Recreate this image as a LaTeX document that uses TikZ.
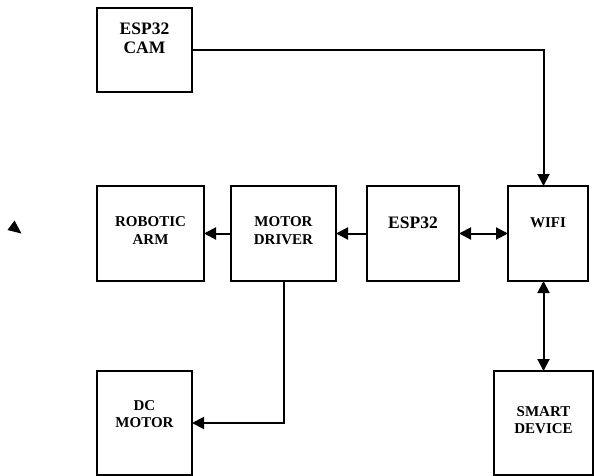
\documentclass[tikz,border=0pt]{standalone}
\usepackage{fontspec}
\setmainfont{Liberation Serif}
\usetikzlibrary{arrows.meta,calc}
\begin{document}
\begin{tikzpicture}[x=1pt,y=-1pt,
  blk/.style={draw, line width=1.7pt, rectangle, inner sep=0pt, outer sep=0pt},
  lbl/.style={align=center, font=\bfseries\fontsize{15}{17.5}\selectfont, inner sep=0pt},
  lblbig/.style={align=center, font=\bfseries\fontsize{17.5}{19.5}\selectfont, inner sep=0pt},
  conn/.style={line width=2pt},
  arr/.style={conn, -{Triangle[length=12pt,width=12pt]}},
  dbl/.style={conn, {Triangle[length=12pt,width=12pt]}-{Triangle[length=12pt,width=12pt]}}]
\useasboundingbox (0,0) rectangle (594,476);
% boxes
\node[blk, minimum width=95pt, minimum height=84pt] (cam) at (144.5,50) {};
\node[blk, minimum width=107pt, minimum height=95pt] (arm) at (150.5,233.5) {};
\node[blk, minimum width=105pt, minimum height=95pt] (md) at (283.5,233.5) {};
\node[blk, minimum width=92pt, minimum height=95pt] (esp) at (413,233.5) {};
\node[blk, minimum width=80pt, minimum height=95pt] (wifi) at (548,233.5) {};
\node[blk, minimum width=95pt, minimum height=104pt] (dc) at (144.5,423) {};
\node[blk, minimum width=99pt, minimum height=104pt] (smart) at (543.5,423) {};
% labels
\node[lblbig] (camT) at (144.5,38.5) {ESP32\\CAM};
\node[lbl] (armT) at (150.5,230.5) {ROBOTIC\\ARM};
\node[lbl] (mdT) at (283.5,230.5) {MOTOR\\DRIVER};
\node[lblbig] (espT) at (413,223) {ESP32};
\node[lbl] (wifiT) at (548,223) {WIFI};
\node[lbl] (dcT) at (144.5,414) {DC\\MOTOR};
\node[lbl] (smartT) at (543.5,420) {SMART\\DEVICE};
% connectors
\draw[arr] (cam.east) -| (wifi.north -| smart.north);
\draw[arr] (md.west) -- (arm.east);
\draw[arr] (esp.west) -- (md.east);
\draw[dbl] (esp.east) -- (wifi.west);
\draw[dbl] (wifi.south -| smart.north) -- (smart.north);
\draw[arr] (md.south) |- (dc.east);
% stray mark
\fill (14.5,220.5) -- (7.5,230) -- (21.5,233.5) -- cycle;
\end{tikzpicture}
\end{document}
